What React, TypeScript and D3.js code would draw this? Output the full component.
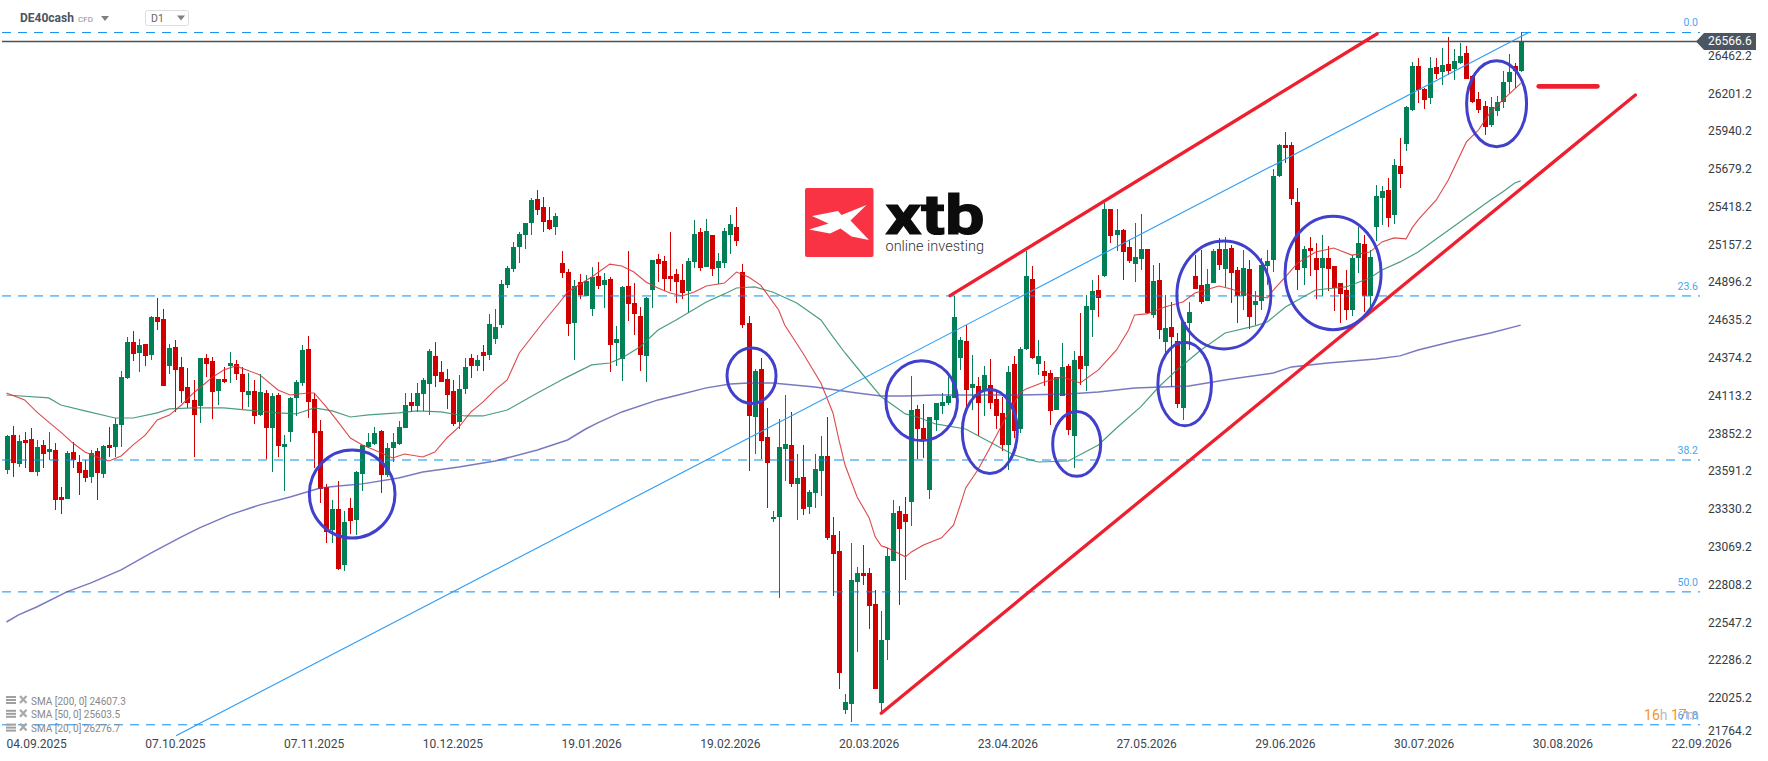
import React from 'react';
import * as d3 from 'd3';

const width = 1768;
const height = 761;
const font = 'Roboto, sans-serif';

// candles, one row = 10 bars
const wickHigh = [
  23848,23911,23848,23869,23897,23814,23814,23869,23793,23490,
  23738,23800,23710,23676,23745,23759,23780,23904,23966,24291,
  24526,24567,24512,24477,24671,24795,24719,24477,24505,24388,
  24312,24229,24381,24408,24388,24236,24319,24422,24367,24319,
  24277,24229,24270,24160,24139,24139,23848,24112,24229,24470,
  24533,24139,23952,23510,23400,23531,23324,23414,23600,23780,
  23862,23904,23883,23793,23862,23945,24139,24139,24208,24243,
  24443,24491,24360,24305,24229,24263,24381,24408,24401,24470,
  24684,24719,24919,25016,25182,25251,25313,25486,25541,25493,
  25424,25382,25119,24995,24919,24960,24953,25009,25043,24967,
  24940,24602,24878,25119,24898,24732,24802,25057,25098,25084,
  25251,24995,25029,25071,25334,25279,25341,25230,25105,25279,
  25368,25424,25029,24671,24305,24381,24036,23324,23959,24125,
  24007,23717,23780,23469,23717,23842,23973,23283,23186,22060,
  23103,22938,23089,22931,22778,22633,23069,23400,23359,23421,
  24257,24056,24063,23973,24070,24139,24250,24809,24526,24608,
  24401,24250,24326,24374,24146,24112,24326,24395,24457,25119,
  25016,24505,24360,24298,24250,24484,24339,24429,24691,24815,
  24919,24953,25451,25410,25410,25272,25196,25313,25375,25134,
  25022,25036,24815,24767,24553,24629,24767,25091,25126,24995,
  25134,25210,25217,25161,25009,25126,25057,24843,25071,25126,
  25686,25858,25941,25872,25555,25154,25217,25175,25230,25154,
  25016,24898,24988,25091,25286,25230,25126,25575,25569,25624,
  25755,25900,26121,26425,26453,26246,26460,26453,26522,26598,
  26515,26556,26536,26335,26217,26155,26184,26190,26363,26480,
  26418,26632,
];
const wickLow = [
  23579,23559,23627,23620,23593,23566,23620,23676,23331,23303,
  23407,23620,23435,23524,23517,23400,23552,23697,23697,23766,
  24236,24360,24284,24325,24367,24574,24187,24270,24007,24070,
  24036,23697,23931,24250,23959,24056,24208,24208,24229,24029,
  24043,23924,23980,23683,23593,23697,23462,23800,23980,24187,
  23966,23620,23379,23103,23103,22917,22910,23165,23158,23462,
  23759,23780,23448,23559,23662,23780,23897,24007,24007,24014,
  23986,24180,24215,24029,23911,23890,24132,24243,24291,24291,
  24367,24477,24588,24864,24974,25036,25134,25230,25368,25251,
  25265,25230,24933,24533,24367,24788,24809,24671,24857,24726,
  24284,24326,24222,24636,24540,24291,24215,24726,24905,24843,
  24843,24760,24788,24691,25002,24981,25009,24947,24891,25002,
  25098,25154,24588,23600,23717,23683,23345,23248,22723,23531,
  23490,23262,23296,23303,23345,23427,23124,22737,22095,21922,
  21867,22350,22812,22509,22095,21929,22295,22979,22674,22847,
  23221,23683,23690,23407,23876,23993,24056,24105,24298,24036,
  24021,23842,23980,24029,23890,23738,23607,23828,23862,24436,
  24374,24263,24187,23917,24021,24119,23848,23620,24195,24153,
  24526,24664,24940,25175,25119,24919,25036,24905,24988,24684,
  24657,24512,24388,24180,24036,23952,24436,24857,24753,24774,
  24898,24988,24871,24760,24622,24712,24581,24608,24712,24884,
  24974,25631,25727,25437,24850,24884,24947,24788,24809,24843,
  24705,24622,24643,24671,24967,24698,24733,25189,25299,25286,
  25306,25555,25810,26086,26141,26100,26134,26308,26266,26335,
  26301,26411,26308,26141,26072,25920,25976,26052,26107,26210,
  26246,26356,
];
const bodyTop = [
  23842,23848,23807,23814,23821,23766,23780,23752,23745,23421,
  23724,23731,23662,23607,23724,23738,23773,23780,23924,24250,
  24491,24491,24470,24477,24664,24664,24650,24450,24457,24319,
  24181,24091,24381,24381,24360,24236,24236,24346,24339,24270,
  24153,24153,24146,24139,24119,24125,23786,24105,24215,24436,
  24443,24098,23876,23490,23338,23338,23248,23345,23593,23780,
  23800,23862,23876,23759,23800,23904,24056,24077,24139,24229,
  24429,24395,24284,24236,24153,24167,24319,24381,24367,24422,
  24615,24595,24891,25002,25147,25237,25313,25472,25479,25424,
  25334,25361,25036,24974,24878,24905,24912,24940,24947,24919,
  24926,24512,24871,24878,24760,24671,24795,25057,25064,25050,
  24947,24960,24919,25050,25237,25251,25258,25230,25050,25258,
  25306,25286,24974,24622,24291,24305,23835,23283,23766,23786,
  23780,23552,23559,23455,23614,23704,23704,23158,23048,22005,
  22847,22896,22896,22896,22681,22433,23014,23310,23324,23303,
  24021,24029,23897,23973,24070,24077,24119,24664,24505,24498,
  24201,24187,24263,24194,24098,24000,24284,24339,24443,24947,
  24926,24395,24291,24277,24250,24319,24326,24367,24395,24740,
  24843,24850,25410,25410,25265,25265,25147,25078,25134,25134,
  24912,24919,24588,24595,24498,24629,24698,24947,24884,24891,
  25119,25134,25134,25140,24988,25002,24995,24774,25022,25050,
  25638,25852,25852,25852,25458,25134,25140,25071,25071,25071,
  25016,24898,24850,25071,25175,25168,25078,25500,25534,25541,
  25713,25706,26114,26398,26398,26239,26384,26391,26405,26411,
  26432,26467,26487,26328,26169,26121,26114,26148,26287,26356,
  26398,26566.6,
];
const bodyBottom = [
  23607,23655,23648,23793,23593,23593,23717,23731,23400,23400,
  23407,23676,23586,23552,23559,23586,23579,23759,23766,23917,
  24243,24408,24415,24395,24401,24629,24187,24325,24298,24153,
  24070,23986,24050,24339,24146,24153,24215,24326,24270,24146,
  24125,23980,23986,23897,23897,23773,23766,23869,24105,24208,
  24077,23862,23476,23179,23193,22924,22951,23255,23262,23579,
  23766,23786,23572,23572,23759,23786,23897,24050,24050,24132,
  24201,24257,24215,24125,23924,23938,24167,24325,24325,24395,
  24401,24512,24608,24884,24995,25147,25230,25313,25403,25320,
  25272,25286,24967,24615,24622,24815,24809,24719,24878,24884,
  24470,24484,24374,24753,24684,24401,24395,24850,25029,24926,
  24926,24905,24829,24843,25043,25002,25009,24995,25002,25036,
  25230,25189,24608,23980,23973,23807,23655,23269,23283,23752,
  23510,23510,23338,23352,23448,23600,23138,23027,22205,21950,
  21991,22833,22875,22667,22095,21998,22433,22979,23200,23248,
  23386,23890,23814,23469,23952,24050,24070,24105,24381,24160,
  24174,24070,24153,24070,23980,23780,23780,23876,23890,24443,
  24381,24339,24257,24014,24021,24119,23883,23842,24305,24326,
  24712,24795,24947,25223,25230,25112,25050,25029,25064,24691,
  24678,24574,24491,24526,24063,24036,24622,24857,24767,24774,
  24898,25022,24995,24967,24809,24809,24664,24746,24774,25016,
  25057,25638,25831,25479,24988,25002,25119,24988,25002,24995,
  24864,24822,24712,24712,25071,24809,24809,25286,25486,25348,
  25368,25651,25858,26093,26231,26162,26176,26342,26356,26363,
  26377,26418,26308,26148,26093,25976,25989,26086,26148,26287,
  26363,26363,
];
// G = close above open, R = close below open
const direction = (
  'GRGRRGRGRR' + 'GRRRGRGRGG' + 'GRGRGRRGRR' + 'RRGRRGRGRR' + 'GRGRGRGGGG' +
  'RRRRGRGRGG' + 'GGRGGGGRGG' + 'GRRRRGGRGR' + 'GGGGGGGGRR' + 'RGRRGRGGRG' +
  'RGGRRRGGRR' + 'RRRGGRGRGG' + 'GRRRGRRGGG' + 'RGRGGGRRRG' + 'GGRRRGGGRR' +
  'GRRGGGGGGR' + 'GRGRRRGRGG' + 'RGRRGGRGRG' + 'GRGRGRRGGR' + 'GRGRRGGRRG' +
  'GRGRRGRGGG' + 'GGRRRGRRGR' + 'RRRGGRGGGR' + 'GRGGRRGRGR' + 'GGRRRRGGGG' + 'RG'
).split('');

// moving averages, read at these bars
const sma20Bars = [0,3,5,7,9,11,13,15,17,19,21,23,25,27,29,31,33,34,36,38,42,43,45,47,50,51,53,55,57,59,61,64,66,69,71,73,75,77,79,81,83,85,89,92,93,97,100,102,104,106,108,110,112,114,116,119,121,123,125,128,129,132,135,137,138,139,141,143,144,145,146,149,150,152,155,157,158,159,161,163,165,168,169,172,175,178,181,184,186,187,189,192,195,197,201,203,206,209,210,212,214,217,220,223,226,228,230,232,233,234,237,239,242,244,246,248,251];
const sma20 = [24139,24091,24008,23938,23869,23793,23731,23697,23669,23704,23780,23848,23952,23986,24056,24139,24208,24243,24298,24326,24263,24229,24160,24125,24139,24139,24043,23938,23828,23780,23745,23690,23717,23697,23731,23828,23904,24008,24077,24160,24229,24415,24629,24781,24836,24940,25029,25016,24974,24905,24864,24829,24809,24836,24878,24898,24974,24940,24884,24712,24608,24415,24208,24001,23814,23641,23421,23276,23145,23083,23069,23007,23041,23089,23138,23228,23352,23483,23607,23759,23917,24139,24167,24215,24250,24208,24298,24436,24574,24678,24685,24733,24767,24829,24878,24857,24816,24795,24850,24940,25036,25112,25140,25091,25112,25182,25210,25203,25279,25334,25472,25610,25873,25955,26080,26162,26276.7];

const sma50Bars = [0,7,9,13,18,21,25,27,31,36,40,45,48,51,54,57,60,65,68,72,76,79,83,88,92,93,97,100,102,105,108,111,116,119,121,124,127,131,135,137,139,142,145,149,151,154,159,163,167,171,176,181,184,188,191,194,198,202,207,209,212,217,222,226,228,231,234,240,246,248,250,251];
const sma50 = [24125,24105,24056,24015,23966,23966,24001,24029,24036,24036,24021,24001,23994,24036,24015,23973,23987,24001,24015,24008,23980,23980,24021,24139,24229,24250,24333,24346,24381,24457,24574,24643,24767,24823,24864,24871,24836,24760,24643,24526,24415,24263,24112,23994,23973,23925,23890,23800,23711,23662,23669,23780,23897,24043,24180,24298,24436,24553,24602,24629,24733,24850,24871,24933,24988,25044,25112,25292,25472,25527,25589,25603.5];

const sma200Bars = [0,2,5,10,14,19,24,29,32,37,42,47,52,55,59,65,69,75,81,88,93,96,98,102,108,112,116,120,123,127,134,141,145,149,154,159,168,176,181,187,196,203,210,213,219,227,231,234,240,246,251];
const sma200 = [22557,22606,22661,22765,22827,22917,23034,23145,23207,23297,23366,23421,23483,23497,23511,23552,23593,23628,23669,23745,23814,23890,23932,24008,24091,24132,24174,24201,24208,24208,24180,24139,24118,24118,24125,24125,24125,24132,24146,24174,24187,24236,24277,24319,24346,24374,24395,24436,24498,24553,24607.3];

const priceTicks = [26462.2,26201.2,25940.2,25679.2,25418.2,25157.2,24896.2,24635.2,24374.2,24113.2,23852.2,23591.2,23330.2,23069.2,22808.2,22547.2,22286.2,22025.2,21764.2];
const dateLabels = ['04.09.2025','07.10.2025','07.11.2025','10.12.2025','19.01.2026','19.02.2026','20.03.2026','23.04.2026','27.05.2026','29.06.2026','30.07.2026','30.08.2026','22.09.2026'];
const fibLabels = ['0.0','23.6','38.2','50.0','61.8'];
const fibPrices = [26628,24809,23676,22765,21847];
const lastPrice = 26566.6;

// drawn annotations, in bars and prices
const circleBars = [57.3,123.5,151.7,163,177.4,195.3,201.8,219.9,247];
const circlePrices = [23441,24258,24086,23872,23787,24201,24816,24968,26137];
const circleBarRadius = [7.1,4.06,5.93,4.56,3.98,4.44,7.79,7.96,4.97];
const circlePriceRadius = [304,191,276,290,224,289,373,392,297];
const lowerTrend = [[145,21927],[270,26197]];
const upperTrend = [[156.4,24811],[227.2,26620]];
const targetMark = [[254,26257],[263.7,26257]];
const fibRay = [[28.1,21772],[252.5,26632]];
const legendRows = ['SMA [200, 0] 24607.3','SMA [50, 0] 25603.5','SMA [20, 0] 26276.7'];

const x = d3.scaleLinear().domain([0, 251]).range([6.5, 1520.7]);
const y = d3.scaleLinear().domain([26853, 21597]).range([0, height]);

const smaLine = d3.line<number[]>().x(d => x(d[0])).y(d => y(d[1]));
const smaPath = (bars: number[], vals: number[]) => smaLine(bars.map((b, i) => [b, vals[i]])) as string;

const GREEN = '#037f55';
const RED = '#d00000';
const DASH = '#0a8ff5';
const TREND = '#ee1f2e';
const CIRCLE = '#4040cc';

export default function App() {
  return (
    <svg width={width} height={height} style={{ position: 'fixed', left: 0, top: 0, background: '#fff' }} fontFamily={font}>
      {/* candles */}
      <g shapeRendering="crispEdges">
        {direction.map((d, i) => {
          const col = d === 'G' ? GREEN : RED;
          const cx = Math.round(x(i));
          return (
            <g key={i} fill={col}>
              <rect x={cx} y={y(wickHigh[i])} width={1} height={y(wickLow[i]) - y(wickHigh[i])} />
              <rect x={cx - 2} y={y(bodyTop[i])} width={5} height={Math.max(1, y(bodyBottom[i]) - y(bodyTop[i]))} />
            </g>
          );
        })}
      </g>

      {/* fibo levels */}
      {fibPrices.map((p, i) => (
        <g key={i}>
          <line x1={2} x2={1700} y1={y(p)} y2={y(p)} stroke={DASH} strokeWidth={1} strokeDasharray="9 7" />
          {i < 4 && <text x={1698} y={y(p) - 9} textAnchor="end" dominantBaseline="middle" fontSize={10.5} fill="#4aa5f5">{fibLabels[i]}</text>}
        </g>
      ))}

      {/* last price */}
      <line x1={2} x2={1700} y1={y(lastPrice)} y2={y(lastPrice)} stroke="#4a5259" strokeWidth={1.4} />

      <path d={smaPath(sma200Bars, sma200)} fill="none" stroke="#4c4caa" strokeWidth={1.5} strokeOpacity={0.75} />
      <path d={smaPath(sma50Bars, sma50)} fill="none" stroke="#2d8c68" strokeWidth={1.2} strokeOpacity={0.85} />
      <path d={smaPath(sma20Bars, sma20)} fill="none" stroke="#d8353a" strokeWidth={1.1} strokeOpacity={0.9} />

      <line x1={x(fibRay[0][0])} y1={y(fibRay[0][1])} x2={x(fibRay[1][0])} y2={y(fibRay[1][1])} stroke="#2b9bf5" strokeWidth={1.1} />

      {/* trend lines */}
      {[lowerTrend, upperTrend].map((t, i) => (
        <line key={i} x1={x(t[0][0])} y1={y(t[0][1])} x2={x(t[1][0])} y2={y(t[1][1])} stroke={TREND} strokeWidth={3.3} strokeLinecap="round" />
      ))}
      <line x1={x(targetMark[0][0])} y1={y(targetMark[0][1])} x2={x(targetMark[1][0])} y2={y(targetMark[1][1])} stroke={TREND} strokeWidth={4.8} strokeLinecap="round" />

      {circleBars.map((b, i) => (
        <ellipse key={i} cx={x(b)} cy={y(circlePrices[i])}
          rx={x(b + circleBarRadius[i]) - x(b)}
          ry={y(circlePrices[i] - circlePriceRadius[i]) - y(circlePrices[i])}
          fill="none" stroke={CIRCLE} strokeWidth={3} />
      ))}

      {/* price axis */}
      {priceTicks.map(p => (
        <text key={p} x={1708} y={Math.min(y(p), 732)} dominantBaseline="middle" fontSize={12} fill="#353c44">{p.toFixed(1)}</text>
      ))}
      <path d={`M1696 ${y(lastPrice)} L1704 33 H1756 V50 H1704 Z`} fill="#4b5660" />
      <text x={1708} y={y(lastPrice) + 0.5} dominantBaseline="middle" fontSize={12} fill="#fff">{lastPrice.toFixed(1)}</text>

      {/* date axis */}
      {dateLabels.map((d, i) => (
        <text key={d} x={x(5 + 23 * i)} y={745} textAnchor="middle" dominantBaseline="middle" fontSize={12} fill="#3c4650">{d}</text>
      ))}

      {/* countdown sits under the 61.8 label */}
      <text x={1699} y={716} textAnchor="end" dominantBaseline="middle" fontSize={14}>
        <tspan fill="#f7941d">16</tspan><tspan fill="#bbb">h </tspan><tspan fill="#f7941d">17</tspan><tspan fill="#bbb">m</tspan>
      </text>
      <text x={1698} y={716} textAnchor="end" dominantBaseline="middle" fontSize={10.5} fill="#4aa5f5">{fibLabels[4]}</text>

      {/* header */}
      <text x={20} y={19} dominantBaseline="middle" fontSize={12} fontWeight={700} fill="#4a5560">DE40cash</text>
      <text x={78} y={20} dominantBaseline="middle" fontSize={8} fill="#8a9096">CFD</text>
      <path d="M101 16 h8 l-4 5 Z" fill="#808080" />
      <rect x={145.5} y={10.5} width={43} height={15} rx={2} fill="#fff" stroke="#ddd" />
      <text x={151} y={19.5} dominantBaseline="middle" fontSize={10.5} fill="#666">D1</text>
      <path d="M177 15.5 h8 l-4 5 Z" fill="#808080" />

      {/* legend */}
      {legendRows.map((t, i) => {
        const ly = 700 + i * 13.8;
        return (
          <g key={t} fill="#a0a0a0">
            <rect x={6} y={ly - 4} width={10} height={2} />
            <rect x={6} y={ly - 1} width={10} height={2} />
            <rect x={6} y={ly + 2} width={10} height={2} />
            <path d={`M20 ${ly - 4} L26.5 ${ly + 3} M26.5 ${ly - 4} L20 ${ly + 3}`} stroke="#a8a8a8" strokeWidth={2.2} />
            <text x={31} y={ly + 2} dominantBaseline="middle" fontSize={10} fill="#888">{t}</text>
          </g>
        );
      })}

      {/* logo */}
      <rect x={805} y={188} width={68.5} height={69} rx={2} fill="#f93343" />
      <path d="M812 216 L838 211 L841.5 215 L866.5 205 L850.5 220.5 L869 240 L851.5 236.5 L840.5 228.5 L830 233.5 L809 229.5 L828.5 223.5 Z" fill="#fff" />
      <text x={885.5} y={233.5} fontSize={56} fontWeight={700} fill="#0c0c0c" stroke="#0c0c0c" strokeWidth={1.2} textLength={99} lengthAdjust="spacingAndGlyphs">xtb</text>
      <text x={885.5} y={250.5} fontSize={15} fontWeight={300} fill="#333" textLength={98.5} lengthAdjust="spacingAndGlyphs">online investing</text>
    </svg>
  );
}
